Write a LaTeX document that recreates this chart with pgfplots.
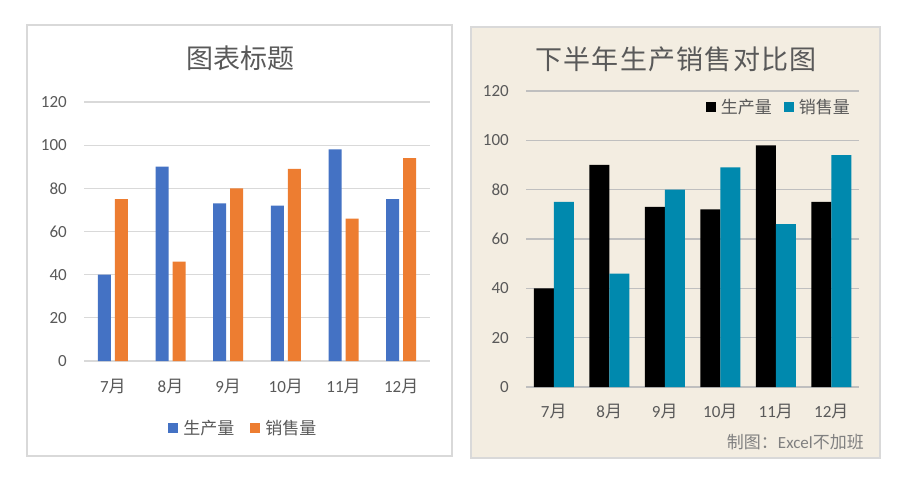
\documentclass[border=0pt]{standalone}
\usepackage{fontspec}
\setmainfont{Carlito}
\newfontfamily\cjk{Noto Sans CJK SC}
\usepackage{pgfplots}
\pgfplotsset{compat=1.18}

\definecolor{lblue}{HTML}{4472C4}
\definecolor{lorange}{HTML}{ED7D31}
\definecolor{rteal}{HTML}{0089AE}
\definecolor{beige}{HTML}{F3EDE1}
\definecolor{txtgray}{HTML}{595959}
\definecolor{capgray}{HTML}{808080}
\definecolor{gridl}{HTML}{D9D9D9}
\definecolor{gridr}{HTML}{BFBFBF}

\newcommand{\fs}{\fontsize{17}{20}\selectfont}

\pgfplotsset{
  mybase/.style={
    scale only axis, ybar,
    xmin=-0.5, xmax=5.5, ymin=0, ymax=120,
    xtick={0,1,2,3,4,5},
    xticklabels={7{\cjk 月},8{\cjk 月},9{\cjk 月},10{\cjk 月},11{\cjk 月},12{\cjk 月}},
    ytick={0,20,...,120},
    /pgf/number format/assume math mode=true,
    axis line style={draw=none},
    major tick length=0pt,
    ymajorgrids,
    tick label style={font=\fs, text=txtgray},
    yticklabel style={anchor=east, inner sep=0pt, xshift=-17pt},
    legend cell align=left,
  },
  sq/.style={legend image code/.code={\fill[##1] (0pt,-5pt) rectangle (10pt,5pt);}},
}

\begin{document}
\begin{tikzpicture}
\useasboundingbox (0pt,0pt) rectangle (918pt,490pt);
\fill[white] (0pt,0pt) rectangle (918pt,490pt);
% frames
\draw[gridl, fill=white, line width=1.2pt] (27pt,34pt) rectangle (452pt,465pt);
\draw[gridl, fill=beige, line width=1.5pt] (471pt,32pt) rectangle (880pt,463pt);

% left chart
\begin{axis}[mybase,
  at={(84pt,129pt)}, anchor=south west,
  width=346pt, height=259pt,
  bar width=13pt, ybar=4pt,
  major grid style={gridl, line width=1.2pt},
  xticklabel style={anchor=base, inner sep=0pt, yshift=-31pt},
  legend columns=2,
  legend style={at={(0.458,-0.259)}, anchor=center, draw=none, fill=none,
    font=\fs\cjk, text=txtgray, nodes={inner sep=0pt},
    /tikz/every odd column/.append style={column sep=5pt},
    /tikz/every even column/.append style={column sep=16pt}},
]
\addplot[fill=lblue, draw=none, sq] coordinates {(0,40) (1,90) (2,73) (3,72) (4,98) (5,75)};
\addlegendentry{生产量}
\addplot[fill=lorange, draw=none, sq] coordinates {(0,75) (1,46) (2,80) (3,89) (4,66) (5,94)};
\addlegendentry{销售量}
\end{axis}
\node[font=\fontsize{27}{30}\selectfont\cjk, text=txtgray] at (240pt,432pt) {图表标题};

% right chart
\begin{axis}[mybase,
  at={(526pt,103pt)}, anchor=south west,
  width=333pt, height=296pt,
  bar width=20pt, ybar=0pt,
  major grid style={gridr, line width=1.3pt},
  xticklabel style={anchor=base, inner sep=0pt, yshift=-30pt},
  legend columns=2,
  legend style={at={(0.982,0.946)}, anchor=east, draw=none, fill=none,
    font=\fs\cjk, text=txtgray, nodes={inner sep=0pt},
    /tikz/every odd column/.append style={column sep=5pt},
    /tikz/every even column/.append style={column sep=12pt}},
]
\addplot[fill=black, draw=none, sq] coordinates {(0,40) (1,90) (2,73) (3,72) (4,98) (5,75)};
\addlegendentry{生产量}
\addplot[fill=rteal, draw=none, sq] coordinates {(0,75) (1,46) (2,80) (3,89) (4,66) (5,94)};
\addlegendentry{销售量}
\end{axis}
\node[font=\fontsize{27}{30}\selectfont\cjk, text=txtgray] at (676pt,431pt)
  {下\kern1.3pt 半\kern1.3pt 年\kern1.3pt 生\kern1.3pt 产\kern1.3pt 销\kern1.3pt 售\kern1.3pt 对\kern1.3pt 比\kern1.3pt 图};
\node[anchor=east, inner sep=0pt, font=\fs, text=capgray] at (864pt,48pt)
  {{\cjk 制图：}Excel{\cjk 不加班}};
\end{tikzpicture}
\end{document}
